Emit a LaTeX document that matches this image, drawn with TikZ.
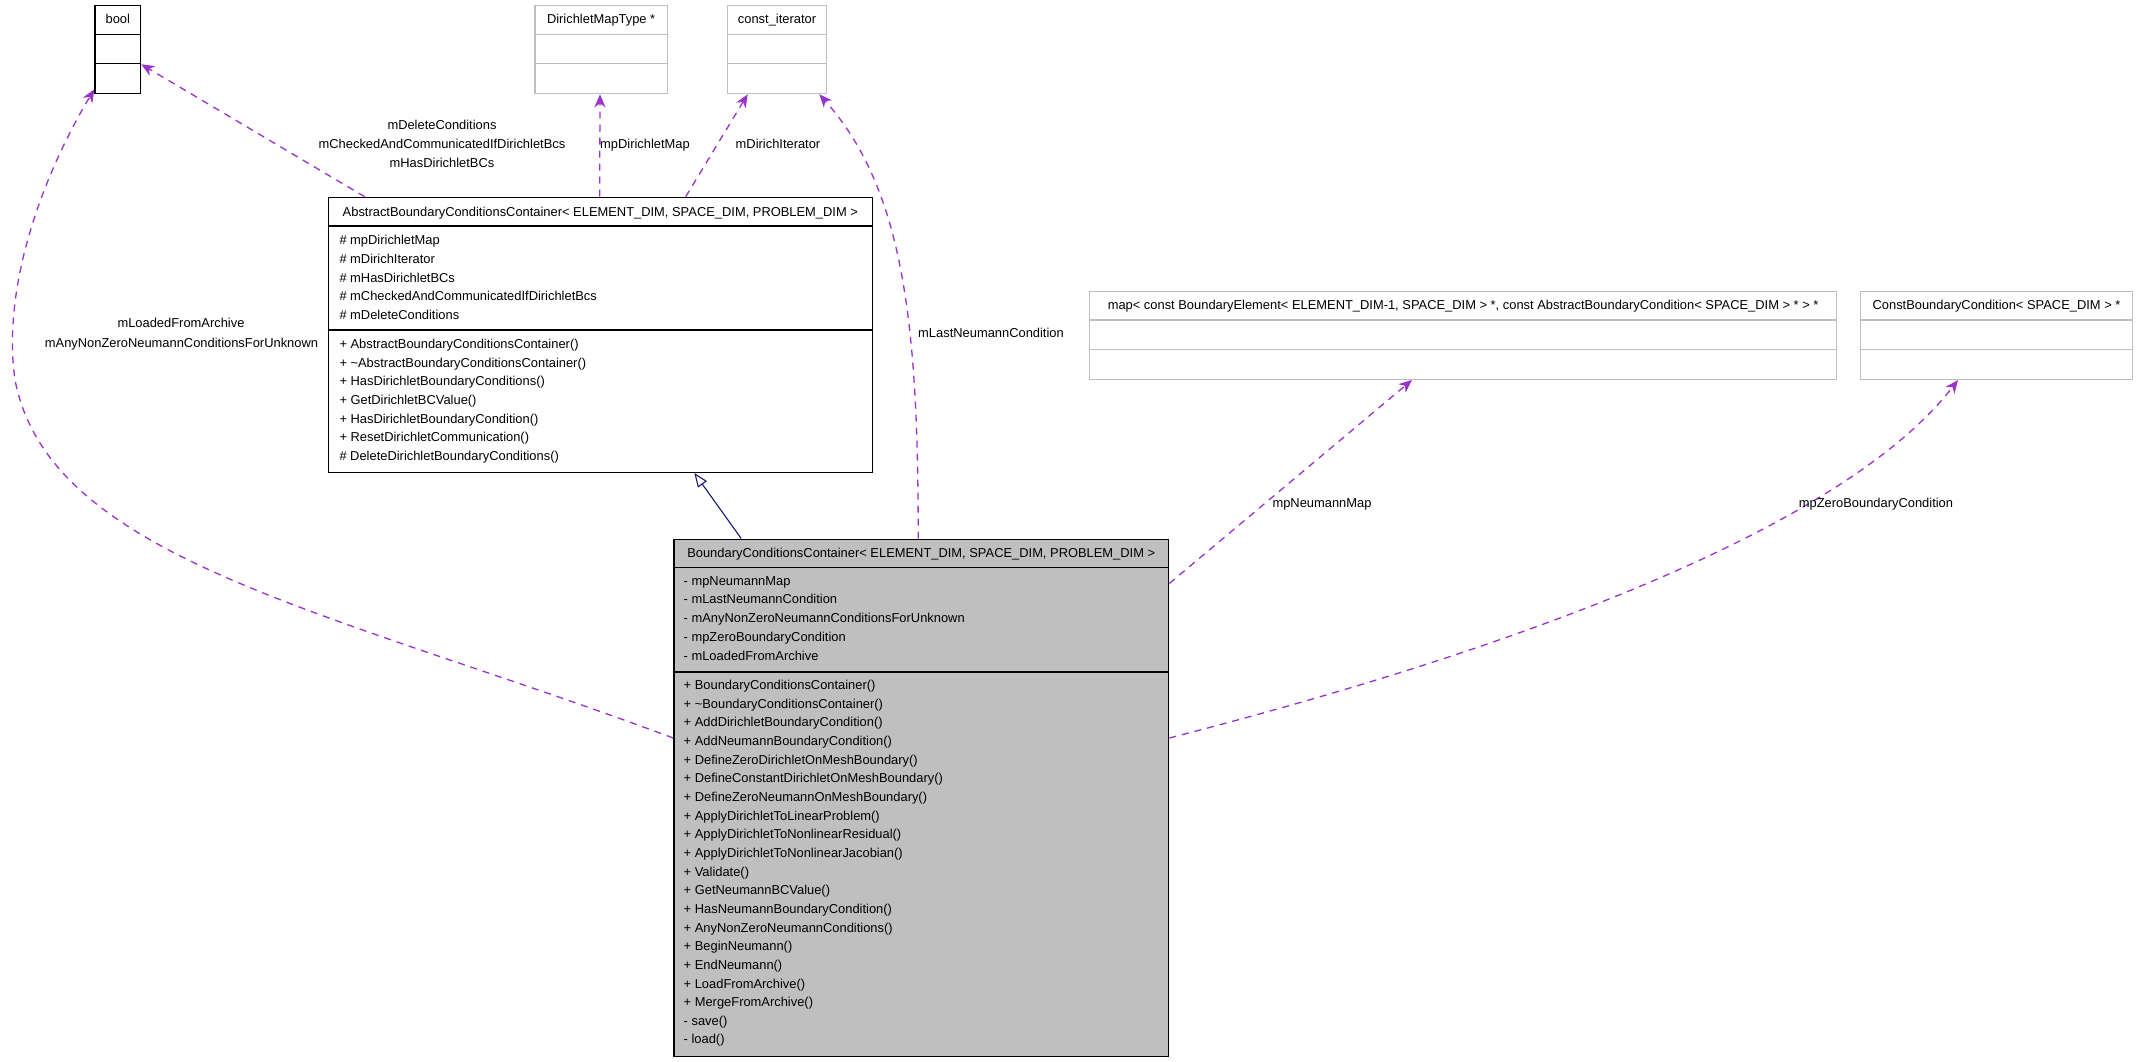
\documentclass[tikz,border=0pt]{standalone}
\usepackage{fontspec}
\setmainfont{Liberation Sans}
\usetikzlibrary{arrows.meta,calc}
\definecolor{purp}{HTML}{9A32CD}
\definecolor{navyblue}{HTML}{191970}
\definecolor{boxgray}{HTML}{BFBFBF}
\newcommand{\emptycls}[6]{%
  \node[#5, anchor=north west, minimum width=#4pt, minimum height=88pt] (#1) at (#2,#3) {};
  \draw[#5] ($(#1.north west)+(0,29.3)$) -- ($(#1.north east)+(0,29.3)$);
  \draw[#5] ($(#1.north west)+(0,58.6)$) -- ($(#1.north east)+(0,58.6)$);
  \node[txt, anchor=base] (#1t) at ($(#1.north)+(0,18.4)$) {#6};}
\begin{document}
\begin{tikzpicture}[x=1pt,y=-1pt,
  txt/.style={inner sep=0pt, font=\fontsize{12.9}{15}\selectfont, text=black},
  blk/.style={draw=black, line width=1.3pt, inner sep=0pt},
  gry/.style={draw=boxgray, line width=1.3pt, inner sep=0pt},
  dep/.style={draw=purp, line width=1.3pt, dash pattern=on 7pt off 6pt,
    -{Stealth[length=13pt,width=11pt,inset=4pt,fill=purp]}},
  inh/.style={draw=navyblue, line width=1.1pt, -{Triangle[open,length=14pt,width=11pt]}}]
\fill[white] (0,0) rectangle (2137,1061);
\useasboundingbox (0,0) rectangle (2137,1061);

% small classes
\emptycls{bool}{94.3}{5}{45.7}{blk}{bool}
\emptycls{dmt}{534.3}{5}{132.4}{gry}{DirichletMapType *}
\emptycls{cit}{726.7}{5}{99.3}{gry}{const\_iterator}
\emptycls{map}{1089}{290.7}{747}{gry}{map< const BoundaryElement< ELEMENT\_DIM-1, SPACE\_DIM > *, const AbstractBoundaryCondition< SPACE\_DIM > * > *}
\emptycls{cbc}{1860}{290.7}{271.7}{gry}{ConstBoundaryCondition< SPACE\_DIM > *}

% abstract container
\node[blk, anchor=north west, minimum width=544pt, minimum height=275pt] (abs) at (327.7,196.7) {};
\draw[blk] ($(abs.north west)+(0,29.3)$) -- ($(abs.north east)+(0,29.3)$);
\draw[blk] ($(abs.north west)+(0,133.3)$) -- ($(abs.north east)+(0,133.3)$);
\node[txt, anchor=base] (abst) at ($(abs.north)+(0,19.6)$) {AbstractBoundaryConditionsContainer< ELEMENT\_DIM, SPACE\_DIM, PROBLEM\_DIM >};
\foreach \t [count=\i] in {\# mpDirichletMap, \# mDirichIterator, \# mHasDirichletBCs, \# mCheckedAndCommunicatedIfDirichletBcs, \# mDeleteConditions}
  \node[txt, anchor=base west] (absa\i) at (339.3, 244.6+18.7*\i-18.7) {\t};
\foreach \t [count=\i] in {+ AbstractBoundaryConditionsContainer(), + \textasciitilde AbstractBoundaryConditionsContainer(), + HasDirichletBoundaryConditions(), + GetDirichletBCValue(), + HasDirichletBoundaryCondition(), + ResetDirichletCommunication(), \# DeleteDirichletBoundaryConditions()}
  \node[txt, anchor=base west] (absm\i) at (339.3, 348.6+18.65*\i-18.65) {\t};

% boundary conditions container
\node[blk, fill=boxgray, anchor=north west, minimum width=494.8pt, minimum height=517.5pt] (bcc) at (673.2,538.5) {};
\draw[blk] ($(bcc.north west)+(0,29)$) -- ($(bcc.north east)+(0,29)$);
\draw[blk] ($(bcc.north west)+(0,133.5)$) -- ($(bcc.north east)+(0,133.5)$);
\node[txt, anchor=base] (bcct) at ($(bcc.north)+(0,18.8)$) {BoundaryConditionsContainer< ELEMENT\_DIM, SPACE\_DIM, PROBLEM\_DIM >};
\foreach \t [count=\i] in {- mpNeumannMap, - mLastNeumannCondition, - mAnyNonZeroNeumannConditionsForUnknown, - mpZeroBoundaryCondition, - mLoadedFromArchive}
  \node[txt, anchor=base west] (bcca\i) at (683.5, 585.2+18.7*\i-18.7) {\t};
\foreach \t [count=\i] in {+ BoundaryConditionsContainer(), + \textasciitilde BoundaryConditionsContainer(), + AddDirichletBoundaryCondition(), + AddNeumannBoundaryCondition(), + DefineZeroDirichletOnMeshBoundary(), + DefineConstantDirichletOnMeshBoundary(), + DefineZeroNeumannOnMeshBoundary(), + ApplyDirichletToLinearProblem(), + ApplyDirichletToNonlinearResidual(), + ApplyDirichletToNonlinearJacobian(), + Validate(), + GetNeumannBCValue(), + HasNeumannBoundaryCondition(), + AnyNonZeroNeumannConditions(), + BeginNeumann(), + EndNeumann(), + LoadFromArchive(), + MergeFromArchive(), - save(), - load()}
  \node[txt, anchor=base west] (bccm\i) at (683.5, 689.6+18.65*\i-18.65) {\t};

% connector end points
\coordinate (bccL) at ($(bcc.north west)+(0,199.5)$);
\coordinate (bccR) at ($(bcc.north east)+(0,199.5)$);
\coordinate (bccR2) at ($(bcc.north east)+(0,45)$);
\coordinate (bccT) at ($(bcc.north west)+(245,0)$);
\coordinate (bccI) at ($(bcc.north west)+(68,0)$);
\coordinate (boolA) at ($(bool.south west)+(0,-5)$);
\coordinate (boolB) at ($(bool.south east)+(0,-30)$);
\coordinate (absB) at ($(abs.north west)+(37,0)$);
\coordinate (absM) at ($(abs.north west)+(272,0)$);
\coordinate (dmtM) at ($(dmt.south west)+(65.7,0)$);
\coordinate (absI) at ($(abs.north west)+(358,0)$);
\coordinate (absS) at ($(abs.south west)+(366.6,0)$);
\coordinate (citA) at ($(cit.south west)+(21,0)$);
\coordinate (citB) at ($(cit.south east)+(-8,0)$);
\coordinate (mapA) at ($(map.south west)+(323,0)$);
\coordinate (cbcA) at ($(cbc.south west)+(98,0)$);

% connectors
\draw[inh] (bccI) -- (absS);
\draw[dep] (bccL) .. controls (330,610) and (50,560) .. (15,380) .. controls (2,290) and (40,180) .. (boolA);
\draw[dep] (absB) -- (boolB);
\draw[dep] (absM) -- (dmtM);
\draw[dep] (absI) -- (citA);
\draw[dep] (bccT) .. controls ($(bccT)+(0,-210)$) and (905,190) .. (citB);
\draw[dep] (bccR2) -- (mapA);
\draw[dep] (bccR) .. controls (1550,640) and (1850,520) .. (cbcA);

% labels
\node[txt, anchor=base] (l1) at (181,327.9) {mLoadedFromArchive};
\node[txt, anchor=base] (l2) at (181.5,347.3) {mAnyNonZeroNeumannConditionsForUnknown};
\node[txt, anchor=base] (l3) at (442,129.6) {mDeleteConditions};
\node[txt, anchor=base] (l4) at (442,148.6) {mCheckedAndCommunicatedIfDirichletBcs};
\node[txt, anchor=base] (l5) at (442,167.6) {mHasDirichletBCs};
\node[txt, anchor=base] (l6) at (645,148.6) {mpDirichletMap};
\node[txt, anchor=base] (l7) at (778,148.6) {mDirichIterator};
\node[txt, anchor=base] (l8) at (991,337.6) {mLastNeumannCondition};
\node[txt, anchor=base] (l9) at (1322,507.6) {mpNeumannMap};
\node[txt, anchor=base] (l10) at (1876,507.6) {mpZeroBoundaryCondition};
\end{tikzpicture}
\end{document}
